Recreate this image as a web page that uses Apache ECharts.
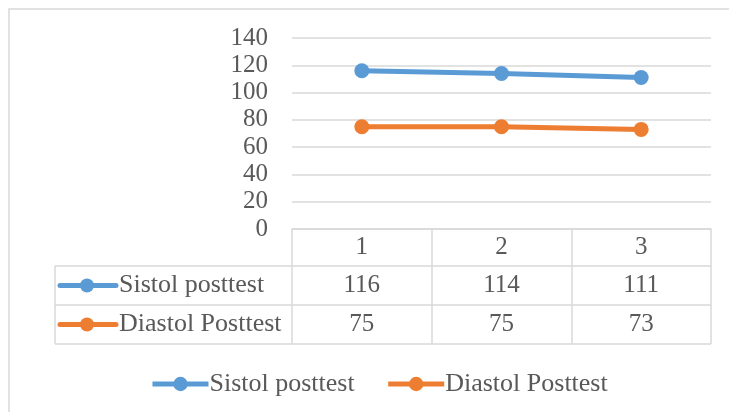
<!DOCTYPE html>
<html>
<head>
<meta charset="utf-8">
<script src="https://cdn.jsdelivr.net/npm/echarts@6/dist/echarts.min.js"></script>
<style>
  html, body { margin: 0; padding: 0; background: #ffffff; }
  #chart { width: 729px; height: 412px; }
</style>
</head>
<body>
<div id="chart"></div>
<script>
// Blood pressure after the intervention, per measurement
const categories = ['1', '2', '3'];
const seriesNames = ['Sistol posttest', 'Diastol Posttest'];
const sistolPosttest = [116, 114, 111];
const diastolPosttest = [75, 75, 73];
const yTicks = { min: 0, max: 140, interval: 20 };

const colors = ['#5b9bd5', '#ed7d31'];
const textColor = '#595959';
const lineGray = '#d9d9d9';
const fontFamily = '"Liberation Serif", "Times New Roman", serif';
const fontSize = 25;

const chart = echarts.init(document.getElementById('chart'), null, { renderer: 'canvas' });

const seriesData = [sistolPosttest, diastolPosttest];

chart.setOption({
  animation: false,
  backgroundColor: '#ffffff',
  color: colors,
  textStyle: { fontFamily: fontFamily },
  grid: { left: 292, right: 18, top: 38, bottom: 183, containLabel: false },
  xAxis: {
    type: 'category',
    data: categories,
    boundaryGap: true,
    axisLine: { show: true, lineStyle: { color: lineGray, width: 1.5 } },
    axisTick: { show: true, length: 115, alignWithLabel: false, lineStyle: { color: lineGray, width: 1.5 } },
    axisLabel: { margin: 6, color: textColor, fontSize: fontSize, fontFamily: fontFamily },
    splitLine: { show: false }
  },
  yAxis: {
    type: 'value',
    min: yTicks.min,
    max: yTicks.max,
    interval: yTicks.interval,
    axisLine: { show: false },
    axisTick: { show: false },
    axisLabel: { margin: 24, color: textColor, fontSize: fontSize, fontFamily: fontFamily },
    splitLine: { lineStyle: { color: lineGray, width: 1.5 } }
  },
  legend: {
    left: 145,
    top: 366,
    itemWidth: 56,
    itemHeight: 18,
    itemGap: 31,
    lineStyle: { width: 5 },
    textStyle: { color: textColor, fontSize: 26, fontFamily: fontFamily, padding: [0, 0, 0, -4] },
    data: seriesNames
  },
  series: seriesNames.map((name, i) => ({
    name: name,
    type: 'line',
    data: seriesData[i],
    symbol: 'circle',
    symbolSize: 15,
    lineStyle: { width: 5, color: colors[i] },
    itemStyle: { color: colors[i] }
  }))
});

// Data table under the plot: rows aligned with the category columns of the x axis
function drawTable() {
  const rect = chart.getModel().getComponent('grid').coordinateSystem.getRect();
  const tableLeft = 55;
  const right = rect.x + rect.width;
  const headerBottom = rect.y + rect.height + 37;
  const rowHeight = 39;
  const elements = [];

  // outer chart frame
  elements.push({
    type: 'rect',
    shape: { x: 9, y: 9, width: 760, height: 440 },
    style: { fill: null, stroke: lineGray, lineWidth: 1.5 },
    silent: true
  });

  // horizontal rules of the data rows
  for (let r = 0; r <= seriesNames.length; r++) {
    const y = headerBottom + r * rowHeight;
    elements.push({
      type: 'line',
      shape: { x1: tableLeft, y1: y, x2: right, y2: y },
      style: { stroke: lineGray, lineWidth: 1.5 },
      silent: true
    });
  }
  // left border of the row-label column
  elements.push({
    type: 'line',
    shape: { x1: tableLeft, y1: headerBottom, x2: tableLeft, y2: headerBottom + seriesNames.length * rowHeight },
    style: { stroke: lineGray, lineWidth: 1.5 },
    silent: true
  });

  seriesNames.forEach((name, r) => {
    const cy = headerBottom + r * rowHeight + rowHeight / 2;
    // series key: line with a dot
    elements.push({
      type: 'line',
      shape: { x1: 60, y1: cy, x2: 116, y2: cy },
      style: { stroke: colors[r], lineWidth: 5, lineCap: 'round' },
      silent: true
    });
    elements.push({
      type: 'circle',
      shape: { cx: 87, cy: cy, r: 7 },
      style: { fill: colors[r] },
      silent: true
    });
    elements.push({
      type: 'text',
      x: 119,
      y: cy,
      style: { text: name, fill: textColor, font: '26px ' + fontFamily, textAlign: 'left', textVerticalAlign: 'middle' },
      silent: true
    });
    // values, one per category column
    seriesData[r].forEach((v, c) => {
      const cx = chart.convertToPixel({ xAxisIndex: 0 }, c);
      elements.push({
        type: 'text',
        x: cx,
        y: cy,
        style: { text: String(v), fill: textColor, font: fontSize + 'px ' + fontFamily, textAlign: 'center', textVerticalAlign: 'middle' },
        silent: true
      });
    });
  });

  chart.setOption({ graphic: { elements: elements } });
}

drawTable();
</script>
</body>
</html>
